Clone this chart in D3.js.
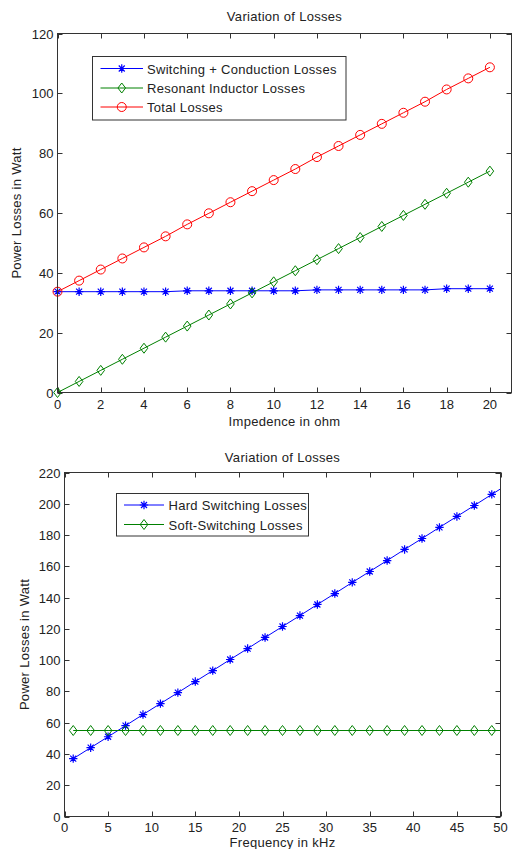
<!DOCTYPE html>
<html>
<head>
<meta charset="utf-8">
<script src="https://cdn.jsdelivr.net/npm/d3@7"></script>
<style>
  html, body { margin: 0; padding: 0; background: #fff; }
  svg { display: block; font-family: "Liberation Sans", Arial, sans-serif; }
  .tick-label { font-size: 13px; fill: #222; }
  .title, .axis-title, .legend-text { font-size: 13px; fill: #222; letter-spacing: 0.3px; }
</style>
</head>
<body>
<div id="chart"></div>
<script>
// Top chart: losses vs impedance
const impedance = [0, 1, 2, 3, 4, 5, 6, 7, 8, 9, 10, 11, 12, 13, 14, 15, 16, 17, 18, 19, 20];
const swCondLosses = [33.7, 33.7, 33.7, 33.7, 33.7, 33.7, 34.0, 34.0, 34.0, 34.0, 34.0,
  34.0, 34.3, 34.3, 34.3, 34.3, 34.3, 34.3, 34.7, 34.7, 34.7];
const resInductorLosses = [0, 3.7, 7.4, 11.1, 14.8, 18.5, 22.2, 25.9, 29.6, 33.3, 37.0,
  40.7, 44.4, 48.1, 51.8, 55.5, 59.2, 62.9, 66.6, 70.3, 74.0];
const totalLosses = [33.7, 37.4, 41.1, 44.8, 48.5, 52.2, 56.2, 59.9, 63.6, 67.3, 71.0,
  74.7, 78.7, 82.4, 86.1, 89.8, 93.5, 97.2, 101.3, 105.0, 108.7];
const topXTicks = [0, 2, 4, 6, 8, 10, 12, 14, 16, 18, 20];
const topYTicks = [0, 20, 40, 60, 80, 100, 120];

// Bottom chart: losses vs frequency
const frequency = [1, 3, 5, 7, 9, 11, 13, 15, 17, 19, 21, 23, 25, 27, 29, 31, 33, 35, 37, 39, 41, 43, 45, 47, 49];
const hardLosses = [37, 44, 51, 58.1, 65.2, 72.2, 79.2, 86.3, 93.3, 100.4, 107.4, 114.5, 121.5,
  128.5, 135.6, 142.6, 149.7, 156.7, 163.7, 170.8, 177.8, 184.9, 191.9, 198.9, 206];
const softLosses = [55, 55, 55, 55, 55, 55, 55, 55, 55, 55, 55, 55, 55,
  55, 55, 55, 55, 55, 55, 55, 55, 55, 55, 55, 55];
// lines continue to the 50 kHz edge
const lineEndFreq = 50;
const hardAtEnd = 209.5;
const softAtEnd = 55;
const bottomXTicks = [0, 5, 10, 15, 20, 25, 30, 35, 40, 45, 50];
const bottomYTicks = [0, 20, 40, 60, 80, 100, 120, 140, 160, 180, 200, 220];

const width = 513;
const height = 849;
const axisColor = "#333";

const svg = d3.select("#chart")
  .append("svg")
  .attr("width", width)
  .attr("height", height);

// marker shapes in MATLAB style
function drawMarker(g, type, x, y, color) {
  if (type === "o") {
    g.append("circle").attr("cx", x).attr("cy", y).attr("r", 4.5)
      .attr("fill", "none").attr("stroke", color).attr("stroke-width", 1);
  } else if (type === "d") {
    g.append("path")
      .attr("d", `M${x},${y - 5}L${x + 3.8},${y}L${x},${y + 5}L${x - 3.8},${y}Z`)
      .attr("fill", "none").attr("stroke", color).attr("stroke-width", 1);
  } else if (type === "*") {
    const r = 4.2, q = 3;
    g.append("path")
      .attr("d", `M${x - r},${y}H${x + r}M${x},${y - r}V${y + r}` +
        `M${x - q},${y - q}L${x + q},${y + q}M${x - q},${y + q}L${x + q},${y - q}`)
      .attr("fill", "none").attr("stroke", color).attr("stroke-width", 1.2);
  }
}

function drawPanel(cfg) {
  const g = svg.append("g");
  const x = d3.scaleLinear().domain(cfg.xDomain).range([cfg.left, cfg.right]);
  const y = d3.scaleLinear().domain(cfg.yDomain).range([cfg.bottom, cfg.top]);
  const tickLen = 5;

  // inward ticks on all four sides
  const ticks = g.append("g").attr("stroke", axisColor).attr("stroke-width", 1);
  cfg.xTicks.forEach((t) => {
    const px = Math.round(x(t)) + 0.5;
    ticks.append("line").attr("x1", px).attr("x2", px)
      .attr("y1", cfg.bottom).attr("y2", cfg.bottom - tickLen);
    ticks.append("line").attr("x1", px).attr("x2", px)
      .attr("y1", cfg.top).attr("y2", cfg.top + tickLen);
  });
  cfg.yTicks.forEach((t) => {
    const py = Math.round(y(t)) + 0.5;
    ticks.append("line").attr("x1", cfg.left).attr("x2", cfg.left + tickLen)
      .attr("y1", py).attr("y2", py);
    ticks.append("line").attr("x1", cfg.right).attr("x2", cfg.right - tickLen)
      .attr("y1", py).attr("y2", py);
  });

  // tick labels
  g.append("g").selectAll("text")
    .data(cfg.xTicks)
    .enter()
    .append("text")
    .attr("class", "tick-label")
    .attr("x", (d) => x(d))
    .attr("y", cfg.bottom + cfg.xTickGap)
    .attr("text-anchor", "middle")
    .text((d) => d);

  g.append("g").selectAll("text")
    .data(cfg.yTicks)
    .enter()
    .append("text")
    .attr("class", "tick-label")
    .attr("x", cfg.left - 4)
    .attr("y", (d) => y(d) + 5)
    .attr("text-anchor", "end")
    .text((d) => d);

  // data
  const plot = g.append("g");
  const line = d3.line().x((d) => x(d[0])).y((d) => y(d[1]));
  cfg.series.forEach((s) => {
    plot.append("path")
      .attr("d", line(s.line))
      .attr("fill", "none")
      .attr("stroke", s.color)
      .attr("stroke-width", 1);
    s.points.forEach((p) => drawMarker(plot, s.marker, x(p[0]), y(p[1]), s.color));
  });

  // box
  g.append("rect")
    .attr("x", cfg.left).attr("y", cfg.top)
    .attr("width", cfg.right - cfg.left).attr("height", cfg.bottom - cfg.top)
    .attr("fill", "none").attr("stroke", axisColor).attr("stroke-width", 1);

  // legend
  const lg = cfg.legend;
  const legend = g.append("g");
  legend.append("rect")
    .attr("x", lg.x).attr("y", lg.y).attr("width", lg.w).attr("height", lg.h)
    .attr("fill", "#fff").attr("stroke", axisColor).attr("stroke-width", 1);
  cfg.series.forEach((s, i) => {
    const ry = lg.rows[i];
    legend.append("line")
      .attr("x1", lg.lineX0).attr("x2", lg.lineX1)
      .attr("y1", ry).attr("y2", ry)
      .attr("stroke", s.color).attr("stroke-width", 1);
    drawMarker(legend, s.marker, (lg.lineX0 + lg.lineX1) / 2, ry, s.color);
    legend.append("text")
      .attr("class", "legend-text")
      .attr("x", lg.textX)
      .attr("y", ry + 5)
      .text(s.name);
  });

  // titles
  g.append("text")
    .attr("class", "title")
    .attr("x", (cfg.left + cfg.right) / 2)
    .attr("y", cfg.titleY)
    .attr("text-anchor", "middle")
    .text(cfg.title);

  g.append("text")
    .attr("class", "axis-title")
    .attr("x", (cfg.left + cfg.right) / 2)
    .attr("y", cfg.xLabelY)
    .attr("text-anchor", "middle")
    .text(cfg.xLabel);

  g.append("text")
    .attr("class", "axis-title")
    .attr("transform", `translate(${cfg.yLabelX},${(cfg.top + cfg.bottom) / 2}) rotate(-90)`)
    .attr("text-anchor", "middle")
    .text(cfg.yLabel);
}

const zip = (a, b) => a.map((v, i) => [v, b[i]]);

drawPanel({
  left: 57.5, right: 511.5, top: 33.5, bottom: 392.5,
  xDomain: [0, 21], yDomain: [0, 120],
  xTicks: topXTicks, yTicks: topYTicks, xTickGap: 16.5,
  title: "Variation of Losses", titleY: 21,
  xLabel: "Impedence in ohm", xLabelY: 426,
  yLabel: "Power Losses in Watt", yLabelX: 21,
  series: [
    { name: "Switching + Conduction Losses", color: "#0000ff", marker: "*",
      line: zip(impedance, swCondLosses), points: zip(impedance, swCondLosses) },
    { name: "Resonant Inductor Losses", color: "#008000", marker: "d",
      line: zip(impedance, resInductorLosses), points: zip(impedance, resInductorLosses) },
    { name: "Total Losses", color: "#ff0000", marker: "o",
      line: zip(impedance, totalLosses), points: zip(impedance, totalLosses) },
  ],
  legend: { x: 92.5, y: 56.5, w: 253.5, h: 63.5, rows: [68.5, 88, 107],
    lineX0: 100.5, lineX1: 143, textX: 147 },
});

drawPanel({
  left: 64.5, right: 500.5, top: 472.5, bottom: 816.5,
  xDomain: [0, 50], yDomain: [0, 220],
  xTicks: bottomXTicks, yTicks: bottomYTicks, xTickGap: 15,
  title: "Variation of Losses", titleY: 461.5,
  xLabel: "Frequency in kHz", xLabelY: 846.5,
  yLabel: "Power Losses in Watt", yLabelX: 29,
  series: [
    { name: "Hard Switching Losses", color: "#0000ff", marker: "*",
      line: zip(frequency, hardLosses).concat([[lineEndFreq, hardAtEnd]]),
      points: zip(frequency, hardLosses) },
    { name: "Soft-Switching Losses", color: "#008000", marker: "d",
      line: zip(frequency, softLosses).concat([[lineEndFreq, softAtEnd]]),
      points: zip(frequency, softLosses) },
  ],
  legend: { x: 116.5, y: 493.5, w: 192, h: 42.5, rows: [505, 524.5],
    lineX0: 124, lineX1: 164, textX: 168.5 },
});
</script>
</body>
</html>
